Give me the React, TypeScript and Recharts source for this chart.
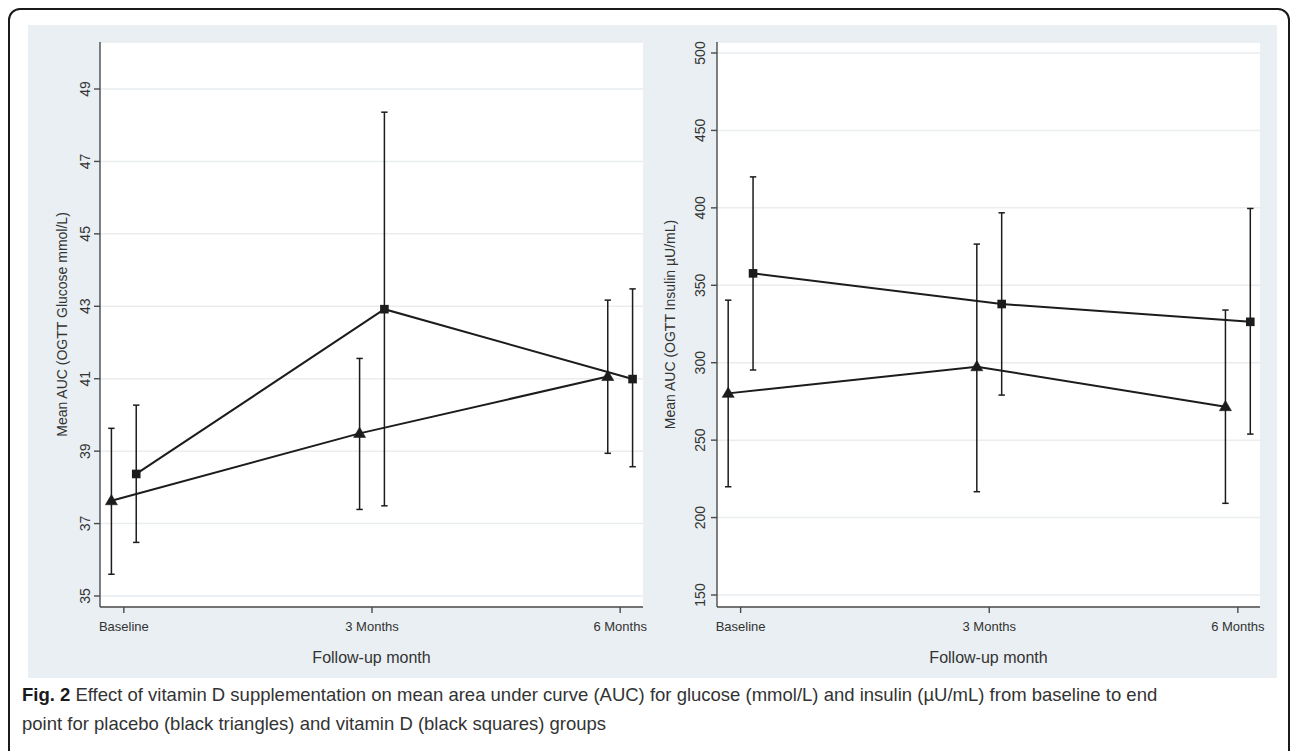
import React from 'react';
import { LineChart, Line, XAxis, YAxis, CartesianGrid, ErrorBar, Label } from 'recharts';

// ---------- data ----------
const months = ['Baseline', '3 Months', '6 Months'];
const monthIndex = [0, 1, 2];

// Glucose AUC (mmol/L)
const glucosePlaceboMean = [37.63, 39.49, 41.06];
const glucosePlaceboLow = [35.6, 37.39, 38.94];
const glucosePlaceboHigh = [39.63, 41.56, 43.17];
const glucoseVitDMean = [38.37, 42.92, 40.99];
const glucoseVitDLow = [36.48, 37.49, 38.57];
const glucoseVitDHigh = [40.27, 48.36, 43.48];

// Insulin AUC (µU/mL)
const insulinPlaceboMean = [280.2, 297.4, 271.6];
const insulinPlaceboLow = [219.9, 216.7, 209.2];
const insulinPlaceboHigh = [340.4, 376.6, 334.0];
const insulinVitDMean = [357.7, 337.9, 326.4];
const insulinVitDLow = [295.3, 279.1, 253.9];
const insulinVitDHigh = [420.0, 396.8, 399.6];

const glucoseTicks = [35, 37, 39, 41, 43, 45, 47, 49];
const insulinTicks = [150, 200, 250, 300, 350, 400, 450, 500];

// ---------- helpers ----------
const DODGE = 0.05;

function buildSeries(mean: number[], low: number[], high: number[], shift: number) {
  return monthIndex.map((m, i) => ({
    x: m + shift,
    y: mean[i],
    err: [mean[i] - low[i], high[i] - mean[i]],
  }));
}

const INK = '#1c1c1c';
const AXIS = '#4a4a4a';
const TEXT = '#333333';
const GRID = '#e9edef';
const PANEL = '#e9eff2';
const FONT = '"Liberation Sans", Arial, Helvetica, sans-serif';

const TriangleDot = (props: any) => {
  const { cx, cy, index } = props;
  if (cx == null || cy == null) return <g key={`t-${index}`} />;
  const hw = 6;
  return (
    <path
      key={`t-${index}`}
      d={`M${cx},${cy - 6.2} L${cx + hw},${cy + 4} L${cx - hw},${cy + 4} Z`}
      fill={INK}
      stroke={INK}
      strokeWidth={0.6}
    />
  );
};

const SquareDot = (props: any) => {
  const { cx, cy, index } = props;
  if (cx == null || cy == null) return <g key={`s-${index}`} />;
  const h = 4.3;
  return <rect key={`s-${index}`} x={cx - h} y={cy - h} width={h * 2} height={h * 2} fill={INK} />;
};

const makeYTick = (shift: number) => (props: any) => {
  const { x, y, payload } = props;
  const cx = x - shift;
  return (
    <text
      x={cx}
      y={y}
      transform={`rotate(-90 ${cx} ${y})`}
      textAnchor="middle"
      dominantBaseline="central"
      fill={TEXT}
      fontSize={14}
      fontFamily={FONT}
    >
      {payload.value}
    </text>
  );
};

const makeYTitle = (text: string, xFromLeft: number) => (props: any) => {
  const vb = props.viewBox || { x: 0, y: 42, width: 72, height: 565 };
  const cx = vb.x + xFromLeft;
  const cy = vb.y + vb.height / 2;
  return (
    <text
      x={cx}
      y={cy}
      transform={`rotate(-90 ${cx} ${cy})`}
      textAnchor="middle"
      dominantBaseline="central"
      fill={TEXT}
      fontSize={14}
      fontFamily={FONT}
    >
      {text}
    </text>
  );
};

type PanelProps = {
  width: number;
  marginRight: number;
  domainX: [number, number];
  domainY: [number, number];
  ticks: number[];
  tickShift: number;
  title: string;
  titleX: number;
  placebo: { x: number; y: number; err: number[] }[];
  vitd: { x: number; y: number; err: number[] }[];
};

function Panel(p: PanelProps) {
  return (
    <LineChart width={p.width} height={653} margin={{ top: 17, right: p.marginRight, bottom: 41, left: 0 }}>
      <CartesianGrid vertical={false} horizontal={true} stroke={GRID} strokeWidth={1.5} fill="#ffffff" />
      <XAxis
        type="number"
        dataKey="x"
        domain={p.domainX}
        allowDataOverflow
        ticks={monthIndex}
        tickFormatter={(v: number) => months[Math.round(v)]}
        height={30}
        tickSize={6}
        tickMargin={9}
        stroke={AXIS}
        strokeWidth={1.4}
        tick={{ fill: TEXT, fontSize: 13, fontFamily: FONT }}
        interval={0}
      >
        <Label value="Follow-up month" position="bottom" offset={15} fill={TEXT} fontSize={16} fontFamily={FONT} />
      </XAxis>
      <YAxis
        type="number"
        domain={p.domainY}
        allowDataOverflow
        ticks={p.ticks}
        width={72}
        tickSize={6}
        stroke={AXIS}
        strokeWidth={1.4}
        tick={makeYTick(p.tickShift)}
        interval={0}
      >
        <Label content={makeYTitle(p.title, p.titleX)} />
      </YAxis>
      <Line
        data={p.placebo}
        dataKey="y"
        type="linear"
        stroke={INK}
        strokeWidth={2}
        dot={TriangleDot}
        activeDot={false}
        isAnimationActive={false}
      >
        <ErrorBar dataKey="err" direction="y" width={3.2} stroke={INK} strokeWidth={1.5} isAnimationActive={false} />
      </Line>
      <Line
        data={p.vitd}
        dataKey="y"
        type="linear"
        stroke={INK}
        strokeWidth={2}
        dot={SquareDot}
        activeDot={false}
        isAnimationActive={false}
      >
        <ErrorBar dataKey="err" direction="y" width={3.2} stroke={INK} strokeWidth={1.5} isAnimationActive={false} />
      </Line>
    </LineChart>
  );
}

export default function App() {
  const gPlacebo = buildSeries(glucosePlaceboMean, glucosePlaceboLow, glucosePlaceboHigh, -DODGE);
  const gVitD = buildSeries(glucoseVitDMean, glucoseVitDLow, glucoseVitDHigh, DODGE);
  const iPlacebo = buildSeries(insulinPlaceboMean, insulinPlaceboLow, insulinPlaceboHigh, -DODGE);
  const iVitD = buildSeries(insulinVitDMean, insulinVitDLow, insulinVitDHigh, DODGE);

  return (
    <div
      style={{
        position: 'absolute',
        left: 0,
        top: 0,
        width: 1290,
        height: 751,
        overflow: 'hidden',
        background: '#ffffff',
        fontFamily: FONT,
      }}
    >
      <div
        style={{
          position: 'absolute',
          left: 8,
          top: 8,
          width: 1282,
          height: 800,
          border: '2px solid #1a1a1a',
          borderRadius: 12,
          boxSizing: 'border-box',
        }}
      />
      <div style={{ position: 'absolute', left: 28, top: 25, width: 1249, height: 653, background: PANEL }} />
      <div style={{ position: 'absolute', left: 28, top: 25 }}>
        <Panel
          width={642}
          marginRight={27}
          domainX={[-0.096, 2.092]}
          domainY={[34.696, 50.298]}
          ticks={glucoseTicks}
          tickShift={7}
          title="Mean AUC (OGTT Glucose mmol/L)"
          titleX={34}
          placebo={gPlacebo}
          vitd={gVitD}
        />
      </div>
      <div style={{ position: 'absolute', left: 645, top: 25 }}>
        <Panel
          width={632}
          marginRight={17}
          domainX={[-0.095, 2.089]}
          domainY={[142.25, 507.1]}
          ticks={insulinTicks}
          tickShift={9}
          title="Mean AUC (OGTT Insulin µU/mL)"
          titleX={25}
          placebo={iPlacebo}
          vitd={iVitD}
        />
      </div>
      <div
        style={{
          position: 'absolute',
          left: 22,
          top: 680,
          fontSize: 18.5,
          lineHeight: '29px',
          color: TEXT,
          whiteSpace: 'nowrap',
          fontFamily: FONT,
        }}
      >
        <span style={{ fontWeight: 'bold', color: '#1a1a1a' }}>Fig. 2</span> Effect of vitamin D supplementation on mean
        area under curve (AUC) for glucose (mmol/L) and insulin (µU/mL) from baseline to end
        <br />
        point for placebo (black triangles) and vitamin D (black squares) groups
      </div>
    </div>
  );
}
